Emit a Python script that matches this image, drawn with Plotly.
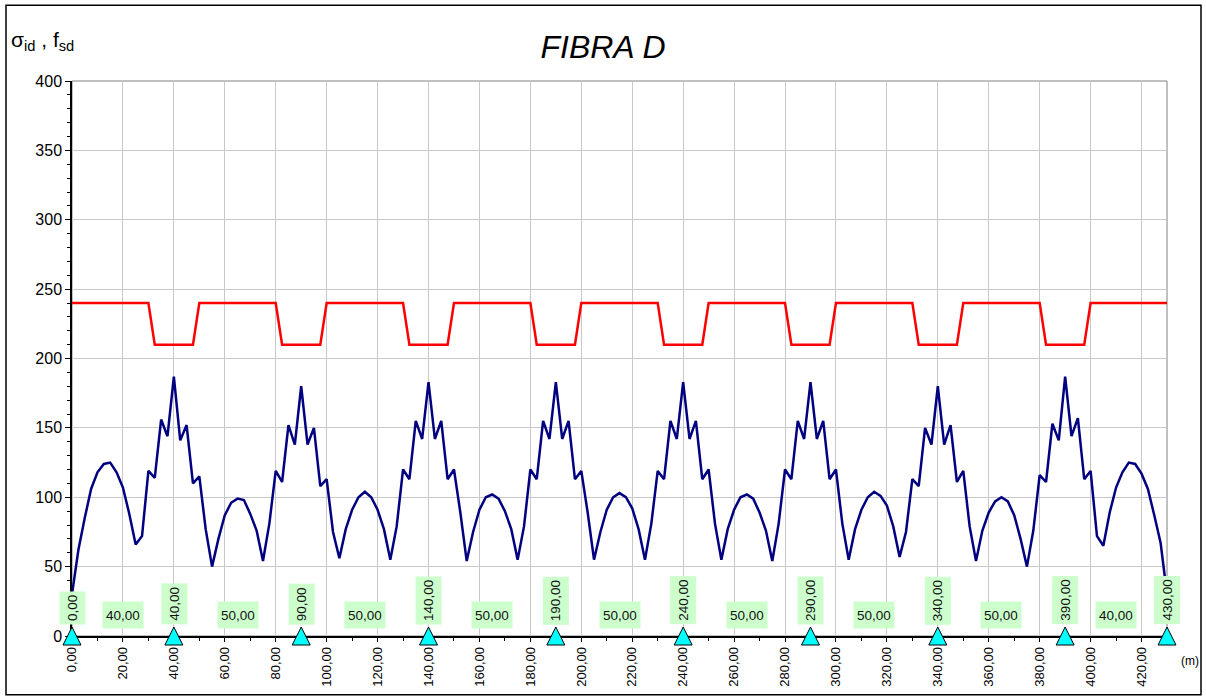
import plotly.graph_objects as go

# ---------------- data ----------------
stations = [
    0, 2.5, 5, 7.5, 10, 12.5, 15, 17.5, 20, 22.5, 25, 27.5, 30, 32.5, 35, 37.5, 40,
    42.5, 45, 47.5, 50, 52.5, 55, 57.5, 60, 62.5, 65, 67.5, 70, 72.5, 75, 77.5, 80, 82.5, 85, 87.5, 90,
    92.5, 95, 97.5, 100, 102.5, 105, 107.5, 110, 112.5, 115, 117.5, 120, 122.5, 125, 127.5, 130, 132.5, 135, 137.5, 140,
    142.5, 145, 147.5, 150, 152.5, 155, 157.5, 160, 162.5, 165, 167.5, 170, 172.5, 175, 177.5, 180, 182.5, 185, 187.5, 190,
    192.5, 195, 197.5, 200, 202.5, 205, 207.5, 210, 212.5, 215, 217.5, 220, 222.5, 225, 227.5, 230, 232.5, 235, 237.5, 240,
    242.5, 245, 247.5, 250, 252.5, 255, 257.5, 260, 262.5, 265, 267.5, 270, 272.5, 275, 277.5, 280, 282.5, 285, 287.5, 290,
    292.5, 295, 297.5, 300, 302.5, 305, 307.5, 310, 312.5, 315, 317.5, 320, 322.5, 325, 327.5, 330, 332.5, 335, 337.5, 340,
    342.5, 345, 347.5, 350, 352.5, 355, 357.5, 360, 362.5, 365, 367.5, 370, 372.5, 375, 377.5, 380, 382.5, 385, 387.5, 390,
    392.5, 395, 397.5, 400, 402.5, 405, 407.5, 410, 412.5, 415, 417.5, 420, 422.5, 425, 427.5, 430,
]

sigma_id = [
    30, 62, 85, 106, 118, 124, 125, 118, 107, 88, 66, 72, 119, 114, 156, 144, 187,
    141, 152, 110, 115, 77, 50, 70, 87, 96, 99, 98, 88, 76, 54, 81, 119, 111, 152, 138, 180,
    138, 150, 108, 113, 75, 56, 77, 91, 100, 104, 100, 91, 77, 55, 79, 120, 113, 155, 142, 183,
    142, 155, 113, 120, 89, 54, 75, 91, 100, 102, 99, 90, 77, 55, 79, 120, 113, 155, 142, 183,
    142, 155, 113, 119, 89, 55, 75, 91, 100, 103, 100, 92, 77, 55, 81, 119, 113, 155, 142, 183,
    142, 155, 113, 120, 81, 55, 77, 91, 100, 102, 99, 89, 76, 54, 81, 120, 113, 155, 142, 183,
    142, 155, 113, 120, 81, 55, 77, 91, 100, 104, 101, 94, 79, 57, 75, 113, 108, 150, 138, 180,
    138, 152, 111, 119, 79, 54, 76, 89, 97, 100, 97, 87, 70, 50, 76, 116, 111, 153, 141, 187,
    144, 157, 113, 119, 72, 65, 89, 107, 118, 125, 124, 117, 106, 87, 67, 30,
]

fsd_x = [0, 30, 32.5, 47.5, 50, 80, 82.5, 97.5, 100, 130, 132.5, 147.5, 150,
         180, 182.5, 197.5, 200, 230, 232.5, 247.5, 250, 280, 282.5, 297.5, 300,
         330, 332.5, 347.5, 350, 380, 382.5, 397.5, 400, 430]
fsd_y = [240, 240, 210, 210, 240, 240, 210, 210, 240, 240, 210, 210, 240,
         240, 210, 210, 240, 240, 210, 210, 240, 240, 210, 210, 240,
         240, 210, 210, 240, 240, 210, 210, 240, 240]

supports = [0, 40, 90, 140, 190, 240, 290, 340, 390, 430]
span_lengths = [40, 50, 50, 50, 50, 50, 50, 50, 40]

title_text = "FIBRA D"
y_label = "σ<sub>id</sub> , f<sub>sd</sub>"
x_unit = "(m)"

# ---------------- layout constants ----------------
W, H = 1206, 699
ML, MR, MT, MB = 72, 39, 81, 61
plot_w = W - ML - MR
plot_h = H - MT - MB
X_MAX, Y_MAX = 430, 400
FONT = "Liberation Sans, Arial, sans-serif"
GREEN = "#CCFFCC"


def fmt(v):
    return f"{v:.2f}".replace(".", ",")


def px_x(p):  # pixel -> paper x
    return (p - ML) / plot_w


def px_y(p):  # pixel -> paper y
    return (H - MB - p) / plot_h


fig = go.Figure()

fig.add_trace(go.Scatter(x=fsd_x, y=fsd_y, mode="lines",
                         line=dict(color="#FF0000", width=2.5),
                         hoverinfo="skip", showlegend=False))
fig.add_trace(go.Scatter(x=stations, y=sigma_id, mode="lines",
                         line=dict(color="#000080", width=2.5),
                         hoverinfo="skip", showlegend=False))

# support triangles (apex 9 px above the axis)
tri_offset = 9 * Y_MAX / plot_h
fig.add_trace(go.Scatter(x=supports, y=[tri_offset] * len(supports), mode="markers",
                         marker=dict(symbol="arrow-up", size=18, color="#00FFFF",
                                     line=dict(color="black", width=1)),
                         cliponaxis=False, hoverinfo="skip", showlegend=False))

annotations = []
# support abscissa labels (vertical)
for s in supports:
    annotations.append(dict(x=s, y=0, xref="x", yref="y", text=fmt(s), textangle=-90,
                            showarrow=False, yanchor="bottom", xanchor="center", yshift=11,
                            bgcolor=GREEN, borderpad=3, height=19,
                            font=dict(family=FONT, size=13.5, color="#111111")))
# span length labels
for a, L in zip(supports[:-1], span_lengths):
    annotations.append(dict(x=a + L / 2, y=0, xref="x", yref="y", text=fmt(L),
                            showarrow=False, yanchor="middle", xanchor="center", yshift=21,
                            bgcolor=GREEN, borderpad=3, height=20,
                            font=dict(family=FONT, size=13.5, color="#111111")))
# y label
annotations.append(dict(x=px_x(9), y=px_y(26), xref="paper", yref="paper", text=y_label,
                        showarrow=False, xanchor="left", yanchor="top",
                        font=dict(family=FONT, size=21, color="black")))
# unit label
annotations.append(dict(x=px_x(1190), y=px_y(663), xref="paper", yref="paper", text=x_unit,
                        showarrow=False, xanchor="center", yanchor="middle",
                        font=dict(family=FONT, size=12, color="black")))

shapes = [
    # plot-area frame
    dict(type="rect", xref="paper", yref="paper", x0=0, x1=1, y0=0, y1=1,
         line=dict(color="#808080", width=1), layer="below"),
    # outer chart frame
    dict(type="rect", xref="paper", yref="paper", x0=px_x(6), x1=px_x(1201),
         y0=px_y(697), y1=px_y(5), line=dict(color="black", width=1.5)),
]

fig.update_layout(
    width=W, height=H, autosize=False,
    margin=dict(l=ML, r=MR, t=MT, b=MB),
    paper_bgcolor="white", plot_bgcolor="white",
    separators=",.",
    title=dict(text=f"<i>{title_text}</i>", x=0.5, xref="container", xanchor="center",
               y=1 - 47 / H, yref="container", yanchor="middle",
               font=dict(family=FONT, size=32, color="black")),
    annotations=annotations,
    shapes=shapes,
    showlegend=False,
)

fig.update_xaxes(range=[0, X_MAX], tickmode="linear", tick0=0, dtick=20, tickformat=".2f",
                 tickangle=-90, ticks="outside", ticklen=4, tickcolor="black",
                 tickfont=dict(family=FONT, size=13, color="black"),
                 showline=True, linecolor="black", linewidth=1.5,
                 showgrid=True, gridcolor="#C8C8C8", gridwidth=1, zeroline=False,
                 minor=dict(dtick=10, tick0=0, ticks="outside", ticklen=3, tickcolor="black",
                            showgrid=False),
                 layer="below traces", fixedrange=True)
fig.update_yaxes(range=[0, Y_MAX], tickmode="linear", tick0=0, dtick=50,
                 ticks="outside", ticklen=5, tickcolor="black",
                 tickfont=dict(family=FONT, size=16, color="black"),
                 showline=True, linecolor="black", linewidth=1.5,
                 showgrid=True, gridcolor="#C8C8C8", gridwidth=1, zeroline=False,
                 minor=dict(dtick=10, tick0=0, ticks="outside", ticklen=3, tickcolor="black",
                            showgrid=False),
                 layer="below traces", fixedrange=True)

fig.write_html("out.html", config={"displayModeBar": False},
               post_script="document.body.style.margin='0px';")
